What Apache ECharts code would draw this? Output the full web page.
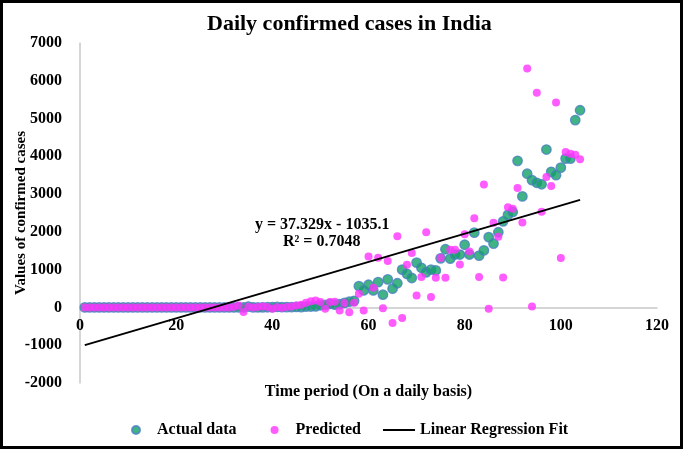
<!DOCTYPE html>
<html>
<head>
<meta charset="utf-8">
<script src="https://cdn.jsdelivr.net/npm/echarts@6/dist/echarts.min.js"></script>
<style>
	html, body { margin: 0; padding: 0; background: #fff; }
	#chart { width: 683px; height: 449px; }
</style>
</head>
<body>
<div id="chart"></div>
<script>
	'use strict';
	// daily values, day 1 .. day 104
	var actualData = [
		1, 0, 0, 1, 1, 0, 0, 0, 0, 0,
		0, 0, 0, 0, 0, 0, 0, 0, 0, 0,
		0, 0, 0, 0, 0, 0, 0, 0, 0, 0,
		0, 0, 2, 1, 22, 2, 1, 3, 5, 9,
		15, 8, 10, 6, 13, 10, 22, 24, 27, 57,
		66, 94, 74, 86, 120, 153, 175, 564, 450, 601,
		450, 670, 337, 742, 496, 640, 1000, 890, 780, 1185,
		1050, 930, 1000, 980, 1300, 1540, 1290, 1400, 1400, 1660,
		1400, 1980, 1370, 1510, 1860, 1690, 1990, 2280, 2450, 2525,
		3880, 2940, 3540, 3370, 3300, 3260, 4180, 3590, 3500, 3700,
		3940, 3940, 4960, 5220
	];
	var predictedData = [
		0, 0, 0, 0, 0, 0, 0, 0, 0, 0,
		0, 0, 0, 0, 0, 0, 0, 0, 0, 0,
		0, 0, 0, 0, 0, 0, 0, 0, 0, 0,
		0, 10, 50, -120, 20, 0, 10, 26, 10, -35,
		5, -8, 15, 26, 53, 71, 124, 167, 186, 141,
		-35, 141, 150, -80, 115, -130, 124, 363, -80, 1351,
		520, 1317, -19, 1227, -410, 1882, -280, 1130, 1440, 318,
		804, 1988, 274, 787, 1307, 787, 1529, 1529, 1140, 1935,
		1484, 2358, 804, 3255, -35, 2244, 1870, 790, 2650, 2610,
		3160, 2250, 6325, 27, 5680, 2530, 3453, 3215, 5424, 1307,
		4115, 4070, 4040, 3920
	];
	var fitSlope = 37.329;
	var fitIntercept = -1035.1;
	var fitDays = [1, 104];
	var xTicks = { min: 0, max: 120, interval: 20 };
	var yTicks = { min: -2000, max: 7000, interval: 1000 };

	var font = 'Liberation Serif';
	var gridTop = 43, gridBottom = 66, chartH = 449;
	// put the x axis (line + labels) on the y = 0 level
	var plotH = chartH - gridTop - gridBottom;
	var zeroShift = -plotH * (0 - yTicks.min) / (yTicks.max - yTicks.min);

	var toPairs = function (arr) {
		return arr.map(function (v, i) { return [i + 1, v]; });
	};
	var fitLine = fitDays.map(function (d) { return [d, fitSlope * d + fitIntercept]; });
	var plain = function (v) { return String(v); };
	var boldText = function (size) {
		return { fontFamily: font, fontSize: size, fontWeight: 'bold', color: '#000' };
	};

	var chart = echarts.init(document.getElementById('chart'));
	var option = {
		backgroundColor: '#fff',
		animation: false,
		textStyle: { fontFamily: font, fontWeight: 'bold', color: '#000' },
		title: {
			text: 'Daily confirmed cases in India',
			left: 202,
			top: 8,
			textStyle: boldText(22)
		},
		grid: { left: 80, right: 26, top: gridTop, bottom: gridBottom, containLabel: false, outerBoundsMode: 'none' },
		legend: {
			bottom: 11,
			left: 131,
			padding: 0,
			itemWidth: 32,
			itemHeight: 8,
			itemGap: 22,
			textStyle: boldText(16),
			formatter: function (name) {
				// the first entry leaves a wider gap before the next one
				return name === 'Actual data' ? name + '   ' : name;
			},
			data: [
				{ name: 'Actual data', icon: 'circle' },
				{ name: 'Predicted', icon: 'circle' },
				{ name: 'Linear Regression Fit', icon: 'path://M0 0h32v2H0z' }
			]
		},
		xAxis: {
			type: 'value',
			min: xTicks.min,
			max: xTicks.max,
			interval: xTicks.interval,
			offset: zeroShift,
			name: 'Time period (On a daily basis)',
			nameLocation: 'middle',
			nameGap: 76,
			nameMoveOverlap: false,
			nameTextStyle: boldText(16),
			axisLine: { onZero: false, lineStyle: { color: '#c8c8c8', width: 1.5 } },
			axisTick: { show: false },
			splitLine: { show: false },
			axisLabel: Object.assign({ margin: 10, formatter: plain }, boldText(16))
		},
		yAxis: {
			type: 'value',
			min: yTicks.min,
			max: yTicks.max,
			interval: yTicks.interval,
			name: 'Values of confirmed cases',
			nameLocation: 'middle',
			nameGap: 51,
			nameMoveOverlap: false,
			nameTextStyle: boldText(15),
			axisLine: { show: true, onZero: false, lineStyle: { color: '#c8c8c8', width: 1.5 } },
			axisTick: { show: false },
			splitLine: { show: false },
			axisLabel: Object.assign({ margin: 18, formatter: plain }, boldText(16))
		},
		series: [
			{
				name: 'Actual data',
				type: 'scatter',
				symbolSize: 9.5,
				data: toPairs(actualData),
				itemStyle: { color: '#11a066', borderColor: '#4a7ec4', borderWidth: 1.3 }
			},
			{
				name: 'Predicted',
				type: 'scatter',
				symbolSize: 8,
				data: toPairs(predictedData),
				itemStyle: { color: '#ff33ff' }
			},
			{
				name: 'Linear Regression Fit',
				type: 'line',
				symbol: 'none',
				data: fitLine,
				lineStyle: { color: '#000', width: 2 },
				itemStyle: { color: '#000' },
				z: 5
			}
		],
		graphic: [
			{
				type: 'text',
				left: 255,
				top: 217,
				style: { text: 'y = 37.329x - 1035.1', font: 'bold 16px "Liberation Serif"', fill: '#000' }
			},
			{
				type: 'text',
				left: 283,
				top: 234,
				style: { text: 'R\u00b2 = 0.7048', font: 'bold 16px "Liberation Serif"', fill: '#000' }
			},
			{
				type: 'rect',
				shape: { x: 1.5, y: 1.5, width: 680, height: 446 },
				style: { fill: 'none', stroke: '#000', lineWidth: 3 },
				silent: true
			}
		]
	};
	chart.setOption(option);
</script>
</body>
</html>
